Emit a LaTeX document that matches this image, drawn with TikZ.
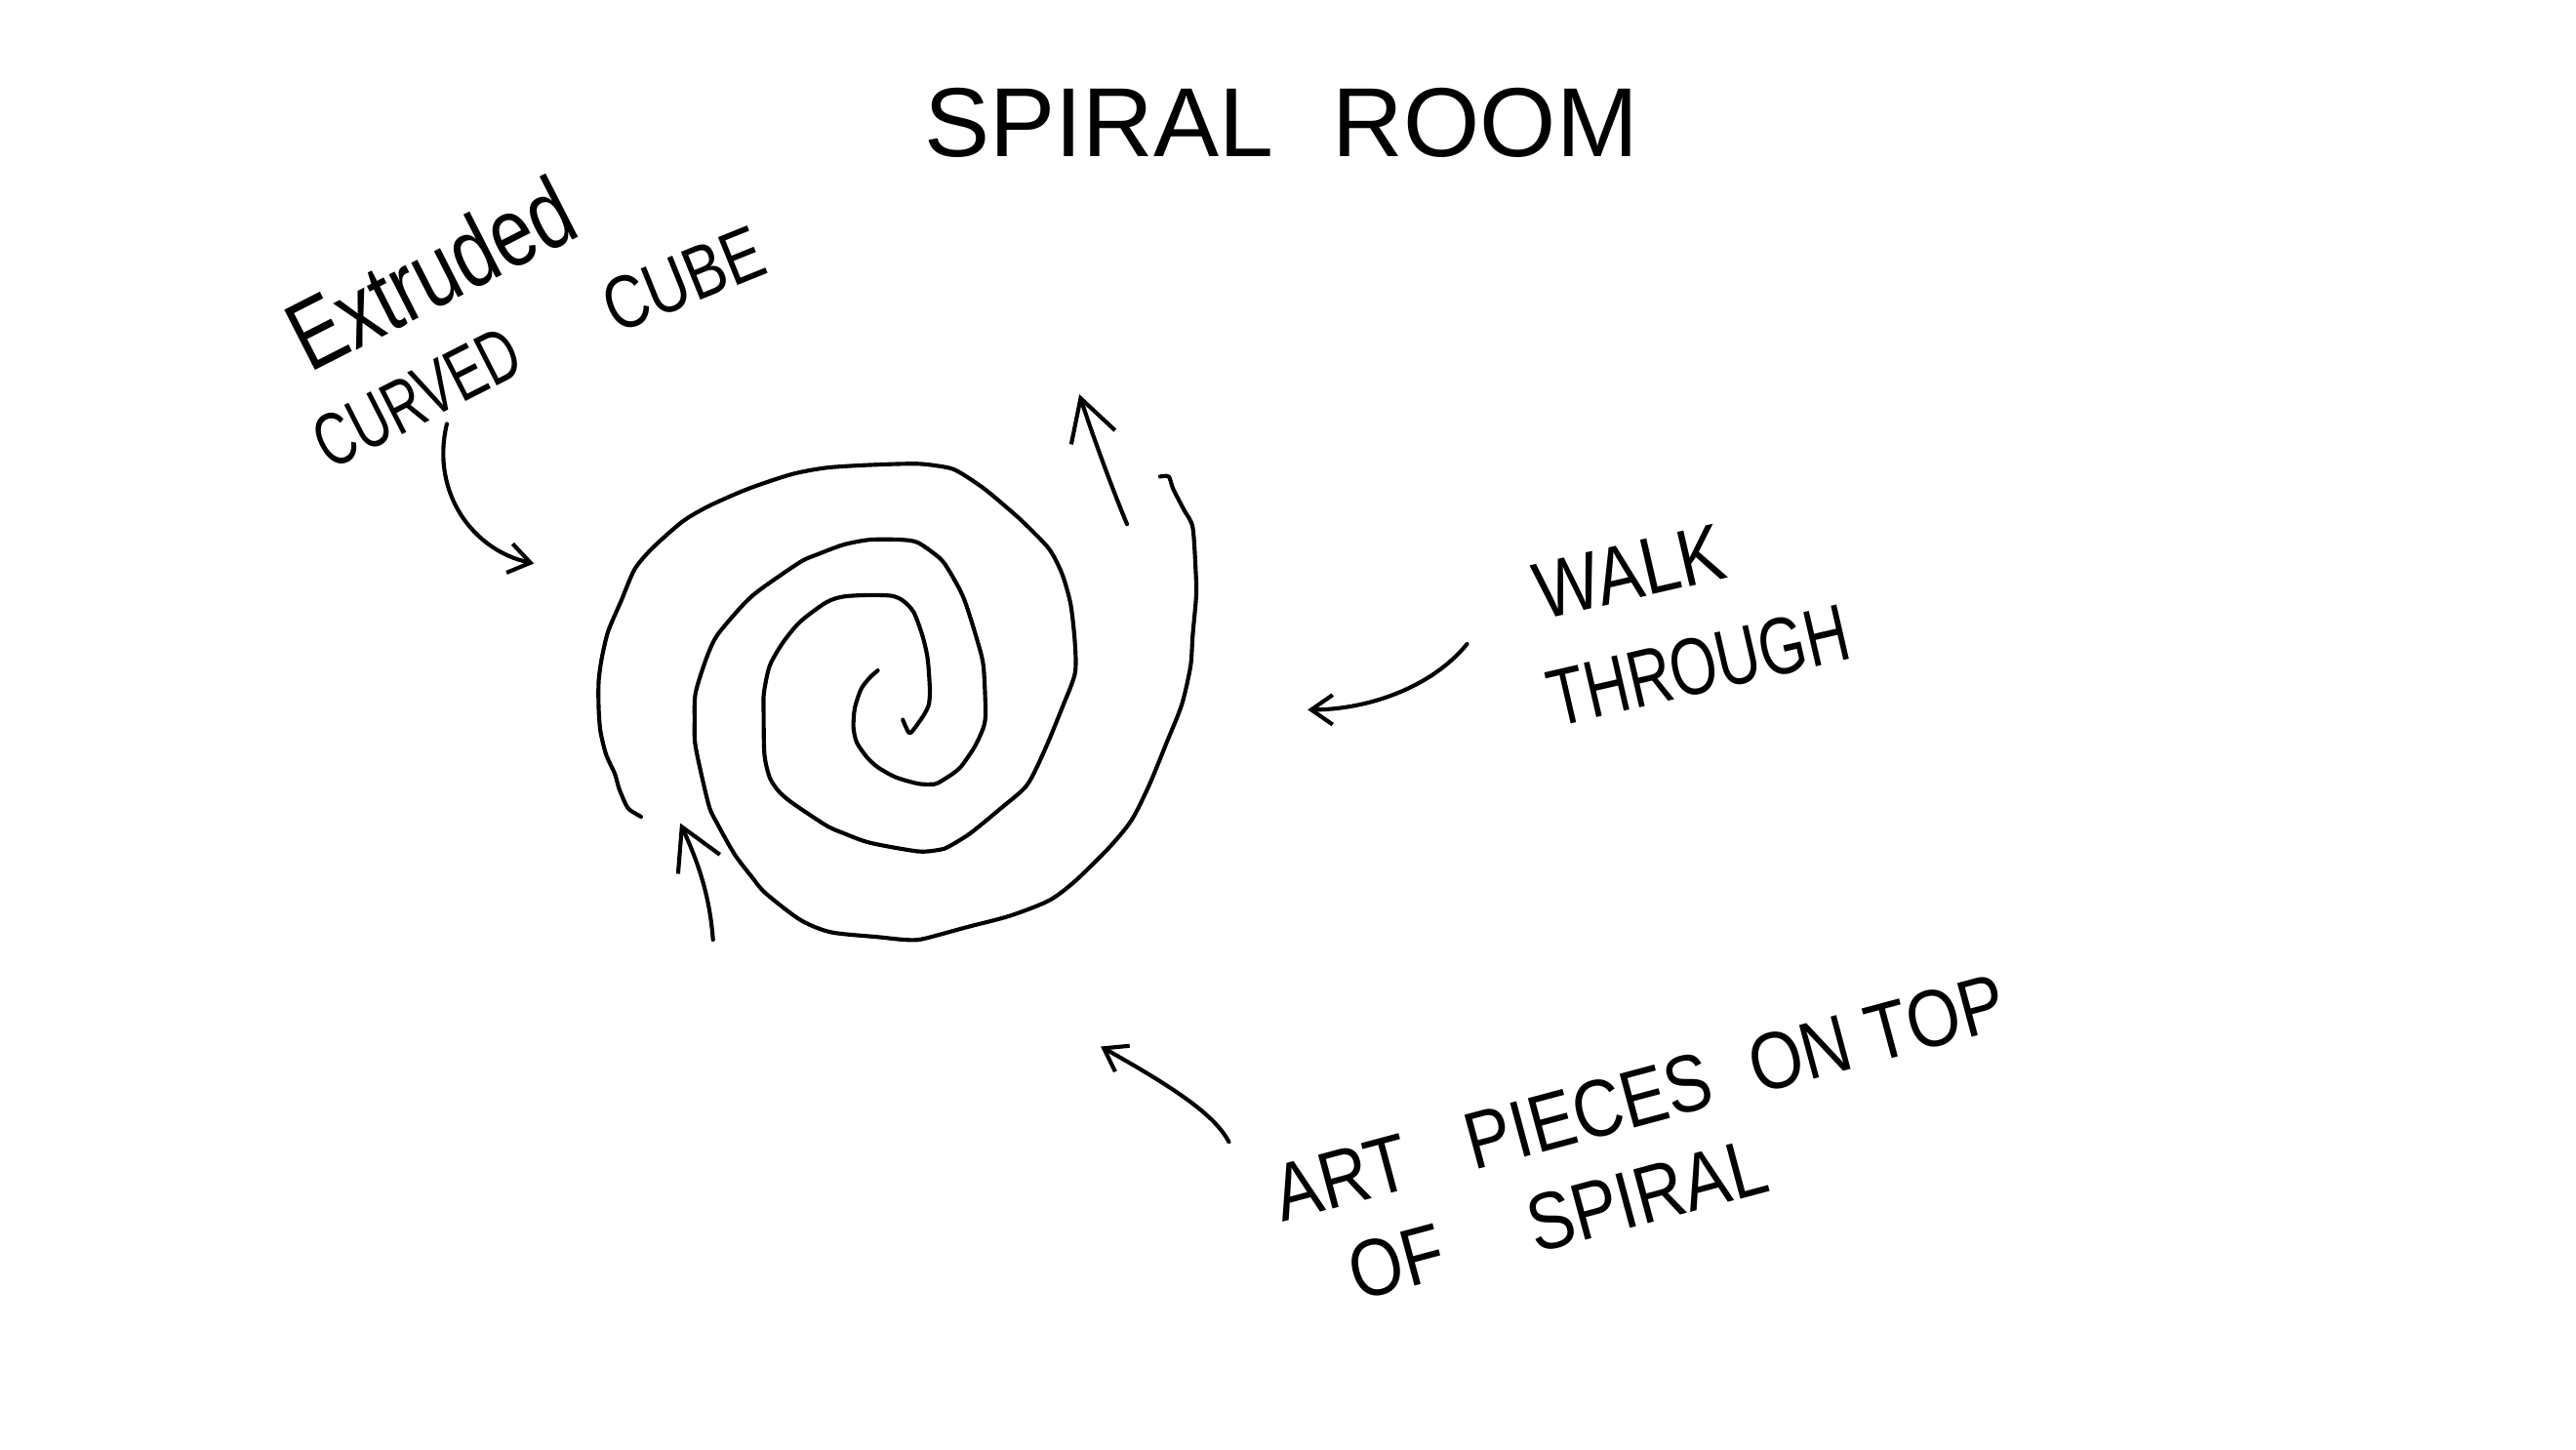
\documentclass[tikz,border=0pt]{standalone}
\usepackage{fontspec}
\usepackage{graphicx}
\setmainfont{Liberation Sans}
\usetikzlibrary{arrows.meta}
\tikzset{
  ink/.style={line width=0.7pt, line cap=round, line join=round, black},
  bigarr/.style={ink, -{Straight Barb[length=2.5mm,width=2.8mm,line width=0.7pt]}},
  smallarr/.style={ink, -{Straight Barb[length=1.3mm,width=1.8mm,line width=0.7pt]}},
  lbl/.style={inner sep=0pt, anchor=center, text=black},
}
\begin{document}
\begin{tikzpicture}[x=0.1mm,y=-0.1mm]
\fill[white] (0,0) rectangle (1568,882);
\useasboundingbox (0,0) rectangle (1568,882);

% texts
\node[lbl] (title) at (780,75) {\fontsize{17}{17}\selectfont SPIRAL\hspace{0.6em}ROOM};
\node[lbl, rotate=27] (extruded) at (262,166) {\scalebox{0.78}[1]{\fontsize{17}{17}\selectfont Extruded}};
\node[lbl, rotate=27] (curved) at (254,242) {\scalebox{0.7}[1]{\fontsize{13}{13}\selectfont CURVED}};
\node[lbl, rotate=22] (cube) at (416,170) {\scalebox{0.8}[1]{\fontsize{13}{13}\selectfont CUBE}};
\node[lbl, rotate=13] (walk) at (992,348) {\scalebox{0.85}[1]{\fontsize{14}{14}\selectfont WALK}};
\node[lbl, rotate=13] (through) at (1034,405) {\scalebox{0.75}[1]{\fontsize{14}{14}\selectfont THROUGH}};
\node[lbl, rotate=15] (art) at (998,668) {\scalebox{0.85}[1]{\fontsize{14}{14}\selectfont ART\hspace{0.9em}PIECES\hspace{0.6em}ON TOP}};
\node[lbl, rotate=15] (ofspiral) at (948,742) {\scalebox{0.85}[1]{\fontsize{14}{14}\selectfont OF\hspace{1.3em}SPIRAL}};

% spiral, stroke A (exits top right)
\draw[ink] plot[smooth, tension=0.45] coordinates {
(706.1,290.1) (711.4,290.1) (714.1,297.6) (720.7,310.4) (726.0,321.0) (727.9,349.1)
(728.1,363.1) (726.0,386.6) (724.7,405.3) (719.4,428.7) (710.1,452.1) (699.5,477.9)
(688.9,499.0) (675.6,515.4) (654.3,536.4) (638.4,548.2) (614.5,557.5) (587.9,564.5)
(561.4,571.6) (550.8,572.0) (534.9,570.4) (505.7,567.4) (487.1,559.9) (465.8,543.5)
(457.9,534.1) (447.2,520.1) (436.6,501.3) (431.3,489.6) (423.4,454.5) (422.8,438.1)
(423.4,421.7) (430.0,400.6) (436.6,386.6) (452.6,367.8) (463.2,358.5) (487.1,342.1)
(497.7,337.4) (513.6,331.5) (529.6,328.5) (548.1,328.5) (558.8,330.3) (572.0,339.7)
(577.3,346.7) (584.0,358.5) (588.0,367.8) (594.6,388.9) (598.6,405.3) (599.9,433.4)
(598.6,442.8) (593.3,454.5) (585.3,466.2) (580.0,470.9) (570.7,476.7) (566.7,477.4)
(558.8,477.0) (545.5,473.2) (534.9,467.4) (528.2,461.5) (521.6,452.1) (519.5,442.8)
(520.3,431.1) (524.2,419.3) (529.6,412.3) (534.3,408.1)};

% spiral, stroke B (enters bottom left)
\draw[ink] plot[smooth, tension=0.45] coordinates {
(390.2,497.1) (383.5,493.1) (380.9,489.6) (376.9,480.2) (374.2,470.9) (368.9,459.2)
(365.5,445.1) (364.4,431.1) (364.4,414.7) (366.3,400.6) (370.2,384.2) (378.2,365.5)
(386.2,346.7) (396.8,333.9) (415.4,317.5) (431.3,308.1) (455.2,297.6) (481.8,288.7)
(503.0,284.7) (529.6,283.0) (558.8,282.3) (577.3,284.7) (585.3,288.2) (598.6,297.1)
(609.2,305.8) (622.5,317.5) (638.4,333.9) (646.4,349.1) (651.7,367.8) (654.3,391.2)
(654.3,410.0) (646.4,431.1) (635.8,456.8) (625.1,477.9) (609.2,492.0) (590.6,507.2)
(577.3,515.4) (572.0,517.2) (558.8,518.2) (529.6,513.0) (513.6,507.2) (503.0,502.5)
(481.8,488.4) (473.8,481.4) (468.5,473.2) (465.3,459.2) (464.8,433.4) (465.0,421.7)
(468.5,405.3) (476.5,391.2) (487.1,378.4) (503.0,366.6) (513.6,363.1) (529.6,362.2)
(542.8,362.7) (549.5,365.5) (556.1,372.5) (561.4,386.6) (564.6,400.6) (566.0,419.3)
(565.4,428.7) (562.7,434.6) (558.8,440.4) (554.8,445.6) (552.9,445.6) (549.5,438.1)};

% arrow end points
\coordinate (inS) at (434,572);
\coordinate (inE) at (414,501);
\coordinate (outS) at (686,319);
\coordinate (outE) at (657,240);
\coordinate (cvS) at (272,258);
\coordinate (cvE) at (325,343);
\coordinate (wkS) at (893,392);
\coordinate (wkE) at (796,432);
\coordinate (arS) at (748,695);
\coordinate (arE) at (670,637);

% connectors
\draw[bigarr] (inS) .. controls (432,545) and (425,525) .. (inE);
\draw[bigarr] (outS) .. controls (678,300) and (665,265) .. (outE);
\draw[smallarr] (cvS) .. controls (262,300) and (288,335) .. (cvE);
\draw[smallarr] (wkS) .. controls (870,420) and (830,432) .. (wkE);
\draw[smallarr] (arS) .. controls (740,680) and (720,665) .. (arE);
\end{tikzpicture}
\end{document}
